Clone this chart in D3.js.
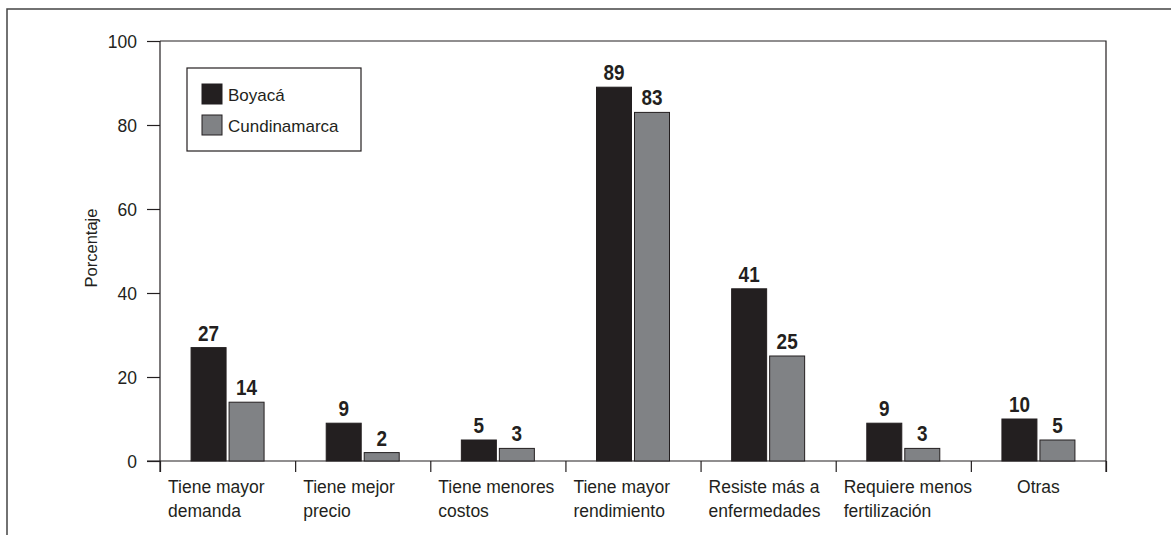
<!DOCTYPE html>
<html lang="es">
<head>
  <meta charset="UTF-8">
  <title>Razones de preferencia</title>
  <script src="https://d3js.org/d3.v7.min.js"></script>
  <style>
    body { margin: 0; background: #fff; }
    svg { display: block; font-family: "Liberation Sans", Arial, sans-serif; }
    text { fill: #231f20; }
    .axis path, .axis line { stroke: #231f20; stroke-width: 1.2; }
  </style>
</head>
<body>
  <svg id="chart" width="1171" height="535"></svg>
  <script>
    // data
    const categories = [
      ["Tiene mayor", "demanda"],
      ["Tiene mejor", "precio"],
      ["Tiene menores", "costos"],
      ["Tiene mayor", "rendimiento"],
      ["Resiste más a", "enfermedades"],
      ["Requiere menos", "fertilización"],
      ["Otras"]
    ];
    const series = ["Boyacá", "Cundinamarca"];
    const boyaca = [27, 9, 5, 89, 41, 9, 10];
    const cundinamarca = [14, 2, 3, 83, 25, 3, 5];
    const yTicks = [0, 20, 40, 60, 80, 100];
    const colors = ["#231f20", "#808285"];

    const svg = d3.select("#chart");
    const margin = {top: 41, right: 65, bottom: 74, left: 160};
    const width = 1171 - margin.left - margin.right,
          height = 535 - margin.top - margin.bottom;

    // outer frame (runs off the right and bottom edges)
    svg.append("rect")
      .attr("x", 7).attr("y", 9)
      .attr("width", 1300).attr("height", 700)
      .attr("fill", "none").attr("stroke", "#444").attr("stroke-width", 1.5);

    const g = svg.append("g").attr("transform", `translate(${margin.left},${margin.top})`);

    const idx = d3.range(categories.length);
    const x = d3.scaleBand().domain(idx).range([0, width]);
    const xEdge = d3.scaleLinear().domain([0, categories.length]).range([0, width]);
    const y = d3.scaleLinear().domain([0, 100]).range([height, 0]);
    const barW = 35, gap = 3;
    const xs = d3.scaleOrdinal().domain(series).range([-barW - gap / 2, gap / 2]);

    // y axis
    g.append("g").attr("class", "axis")
      .call(d3.axisLeft(y).tickValues(yTicks).tickSize(13).tickSizeOuter(0).tickPadding(10))
      .call(a => a.select(".domain").attr("d", `M0,0V${height + 11}`))
      .selectAll("text").style("font-size", "17.5px").attr("dy", "0.36em");

    // x axis with tick marks at category boundaries
    g.append("g").attr("class", "axis")
      .attr("transform", `translate(0,${height})`)
      .call(d3.axisBottom(xEdge).ticks(categories.length).tickSize(11).tickSizeOuter(0).tickFormat(""))
      .call(a => a.select(".domain").attr("d", `M-13,0H${width}`));

    // top and right frame lines
    g.append("path")
      .attr("d", `M0,${y(100)}H${width}V${height + 11}`)
      .attr("fill", "none").attr("stroke", "#231f20").attr("stroke-width", 1.2);

    // category labels
    const labels = g.append("g").selectAll("text")
      .data(categories).join("text")
      .attr("transform", (d, i) => d.length > 1
        ? `translate(${x(i) + 8},${height + 32})`
        : `translate(${x(i) + x.bandwidth() / 2},${height + 32})`)
      .attr("text-anchor", d => d.length > 1 ? "start" : "middle")
      .style("font-size", "17.5px");
    labels.selectAll("tspan").data(d => d).join("tspan")
      .attr("x", 0).attr("dy", (d, i) => i === 0 ? 0 : 24)
      .text(d => d);

    // bars
    const values = [boyaca, cundinamarca];
    series.forEach((s, si) => {
      const cx = i => x(i) + x.bandwidth() / 2 + xs(s);
      g.append("g").selectAll("rect")
        .data(values[si]).join("rect")
        .attr("x", (d, i) => cx(i))
        .attr("y", d => y(d))
        .attr("width", barW)
        .attr("height", d => height - y(d))
        .attr("fill", colors[si])
        .attr("stroke", "#231f20").attr("stroke-width", 1);
      // value labels, squeezed a little to look condensed
      g.append("g").selectAll("text")
        .data(values[si]).join("text")
        .attr("transform", (d, i) => `translate(${cx(i) + barW / 2},${y(d) - 7}) scale(0.86,1)`)
        .attr("text-anchor", "middle")
        .style("font-size", "22px").style("font-weight", "bold")
        .text(d => d);
    });

    // y axis title
    svg.append("text")
      .attr("transform", "translate(97,248) rotate(-90)")
      .attr("text-anchor", "middle")
      .style("font-size", "16.5px")
      .text("Porcentaje");

    // legend
    const lg = svg.append("g").attr("transform", "translate(187,68)");
    lg.append("rect").attr("width", 174).attr("height", 83)
      .attr("fill", "#fff").attr("stroke", "#231f20").attr("stroke-width", 1.2);
    const items = lg.selectAll("g.item").data(series).join("g")
      .attr("transform", (d, i) => `translate(15,${16 + i * 31})`);
    items.append("rect").attr("width", 20).attr("height", 20)
      .attr("fill", (d, i) => colors[i]).attr("stroke", "#231f20").attr("stroke-width", 1);
    items.append("text").attr("x", 26).attr("y", 16.5)
      .style("font-size", "17px").text(d => d);
  </script>
</body>
</html>
